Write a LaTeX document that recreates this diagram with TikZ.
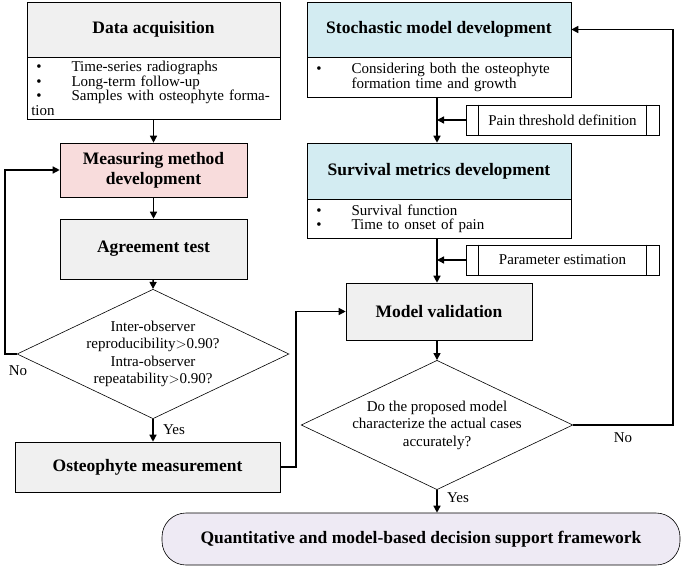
\documentclass[tikz,border=0pt]{standalone}
\usepackage{fontspec}
\setmainfont{Liberation Serif}
\usetikzlibrary{shapes.geometric,arrows.meta}
\begin{document}
\begin{tikzpicture}[x=1pt,y=-1pt,
 box/.style={draw,line width=0.6pt,minimum width=#1,inner sep=2pt,align=center,font=\fontsize{17.5}{20}\selectfont\bfseries},
 lst/.style={draw,line width=0.6pt,text width=#1-8pt,inner sep=4pt,align=left,anchor=north west,font=\fontsize{15}{14.5}\selectfont},
 proc/.style={draw,line width=0.6pt,minimum width=193,minimum height=30,font=\fontsize{15}{16}\selectfont},
 dia/.style={draw,line width=0.6pt,diamond,aspect=2.1,inner sep=0pt,align=center,font=\fontsize{15}{17.5}\selectfont},
 arr/.style={line width=1.4pt,-{Triangle[length=7pt,width=7pt]}},
 lab/.style={font=\fontsize{15}{16}\selectfont}]
\useasboundingbox (0,0) rectangle (685,567);
\definecolor{g}{HTML}{F0F0F0}\definecolor{p}{HTML}{F8DCDC}\definecolor{b}{HTML}{D3ECF2}\definecolor{l}{HTML}{EEEAF4}
% left column
\node[box=253,minimum height=55,fill=g] (da) at (153.5,29.5) {Data acquisition};
\node[lst=253,minimum height=56] (dal) at (27,57) {\ \textbullet\qquad Time-series radiographs\\ \ \textbullet\qquad Long-term follow-up\\ \ \textbullet\qquad Samples with osteophyte formation};
\node[box=187,minimum height=54,fill=p] (mm) at (153.5,170) {Measuring method\\development};
\node[box=187,minimum height=60,fill=g] (at) at (153.5,249) {Agreement test};
\node[dia,minimum width=246,minimum height=116] (d1) at (153,354) {Inter-observer\\reproducibility$>$0.90?\\Intra-observer\\repeatability$>$0.90?};
\node[box=265,minimum height=50,fill=g] (om) at (147.5,467) {Osteophyte measurement};
% right column
\node[box=264,minimum height=55,fill=b] (sm) at (439,29.5) {Stochastic model development};
\node[lst=264,minimum height=40] (sml) at (307,57) {\ \textbullet\qquad Considering both the osteophyte\\ \ \phantom{\textbullet}\qquad formation time and growth};
\node[box=264,minimum height=56,fill=b] (su) at (439,171) {Survival metrics development};
\node[lst=264,minimum height=39] (sul) at (307,199) {\ \textbullet\qquad Survival function\\ \ \textbullet\qquad Time to onset of pain};
\node[proc] (pt) at (562.5,120) {Pain threshold definition};
\node[proc] (pe) at (562.5,260) {Parameter estimation};
\foreach \n in {pt,pe}{\draw[line width=0.6pt] ([xshift=13]\n.north west)--([xshift=13]\n.south west) ([xshift=-13]\n.north east)--([xshift=-13]\n.south east);}
\node[box=186,minimum height=57,fill=g] (mv) at (439,311.5) {Model validation};
\node[dia,minimum width=262,minimum height=126] (d2) at (437,425) {Do the proposed model\\characterize the actual cases\\accurately?};
\node[box=518,minimum height=52,fill=l,rounded corners=24pt] (fw) at (421,539) {Quantitative and model-based decision support framework};
% connectors
\draw[arr] (dal.south -| mm.north) -- (mm.north);
\draw[arr] (mm) -- (at);
\draw[arr] (at) -- (d1.north);
\draw[arr] (d1.south) -- node[lab,right=6pt,pos=0.45]{Yes} (om.north -| d1.south);
\coordinate (n1) at (5,354);
\draw[arr] (d1.west) -- (n1) |- (mm.west);
\node[lab] (no1) at (18,371) {No};
\coordinate (c1) at (296,467);
\draw[arr] (om.east) -- (c1) |- (mv.west);
\draw[arr] (sml.south -| 437,0) -- (su.north -| 437,0);
\draw[arr] (pt.west) -- (437,120);
\draw[arr] (sul.south -| 437,0) -- (mv.north -| 437,0);
\draw[arr] (pe.west) -- (437,260);
\draw[arr] (mv.south -| d2.north) -- (d2.north);
\draw[arr] (d2.south) -- node[lab,right=6pt,pos=0.35]{Yes} (fw.north -| d2.south);
\coordinate (n2) at (673,425);
\draw[arr] (d2.east) -- (n2) |- (sm.east);
\node[lab] (no2) at (623,438) {No};
\end{tikzpicture}
\end{document}
